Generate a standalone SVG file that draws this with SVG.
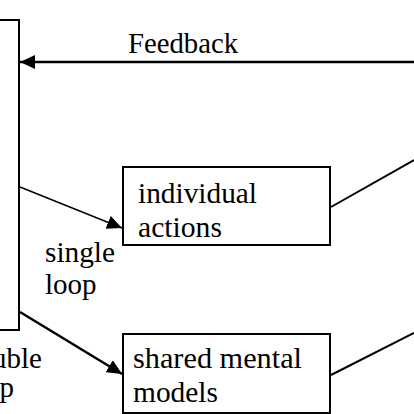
<svg xmlns="http://www.w3.org/2000/svg" width="414" height="414" viewBox="0 0 414 414">
<style>
.box{fill:#fff;stroke:#000;stroke-width:2}
.ln{stroke:#000;fill:none}
</style>
<defs>
<marker id="ah" markerWidth="16" markerHeight="14" refX="15" refY="7" orient="auto" markerUnits="userSpaceOnUse">
<path d="M0,0 L15,7 L0,14 Z" fill="#000"/>
</marker>
</defs>
<rect width="414" height="414" fill="#fff"/>
<g id="left-box">
<rect class="box" x="-40" y="20" width="59" height="310"/>
</g>
<g id="individual-actions" font-family="Liberation Serif, serif" font-size="29" fill="#000">
<rect class="box" x="123" y="167" width="207" height="78"/>
<text x="138" y="203" textLength="119" lengthAdjust="spacingAndGlyphs">individual</text>
<text x="138" y="237" textLength="84" lengthAdjust="spacingAndGlyphs">actions</text>
</g>
<g id="shared-mental-models" font-family="Liberation Serif, serif" font-size="29" fill="#000">
<rect class="box" x="123" y="334" width="207" height="79"/>
<text x="133" y="368" textLength="169" lengthAdjust="spacingAndGlyphs">shared mental</text>
<text x="133" y="402" textLength="85" lengthAdjust="spacingAndGlyphs">models</text>
</g>
<g id="connectors">
<line class="ln" x1="414" y1="62" x2="20" y2="62" stroke-width="2.5" marker-end="url(#ah)"/>
<line class="ln" x1="20" y1="187" x2="122" y2="228" stroke-width="1.5" marker-end="url(#ah)"/>
<line class="ln" x1="20" y1="312" x2="122" y2="374" stroke-width="2.5" marker-end="url(#ah)"/>
<line class="ln" x1="331" y1="207" x2="414" y2="160" stroke-width="2"/>
<line class="ln" x1="331" y1="375" x2="414" y2="333" stroke-width="2"/>
</g>
<g id="labels" font-family="Liberation Serif, serif" font-size="29" fill="#000">
<text x="128" y="53" textLength="110" lengthAdjust="spacingAndGlyphs">Feedback</text>
<text x="45" y="262" textLength="70" lengthAdjust="spacingAndGlyphs">single</text>
<text x="45" y="294">loop</text>
<text x="42" y="368" text-anchor="end">double</text>
<text x="14" y="397" text-anchor="end">loop</text>
</g>
</svg>
